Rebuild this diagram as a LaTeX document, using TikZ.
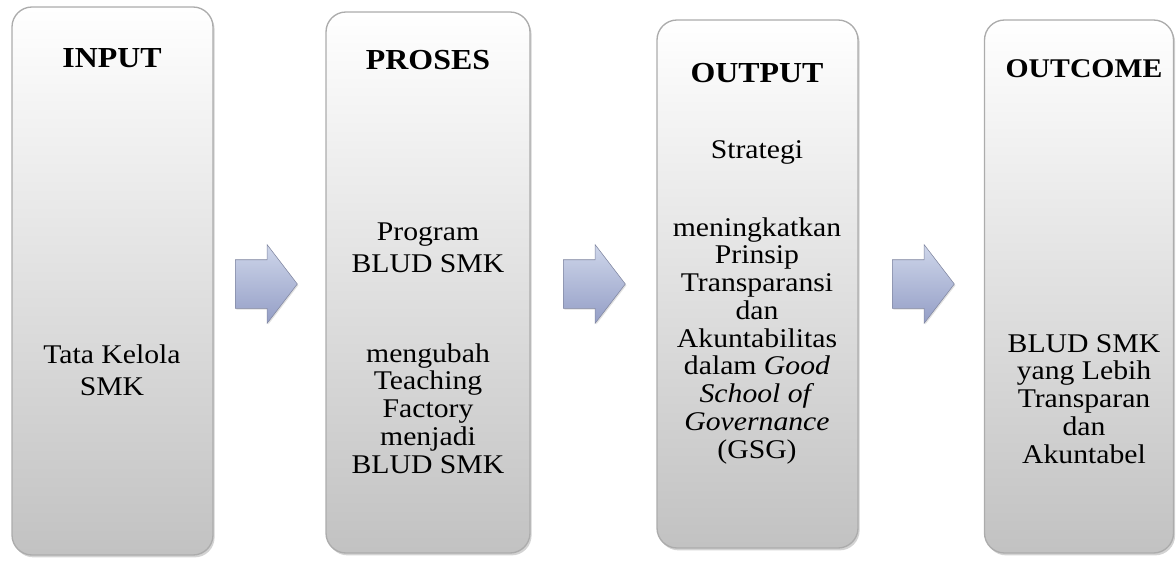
\documentclass[tikz,border=0pt]{standalone}
\usepackage{fontspec}
\setmainfont[FakeStretch=1.1]{Liberation Serif}
\usetikzlibrary{shapes.arrows}
\usetikzlibrary{shadows}
\usetikzlibrary{positioning}
\definecolor{arrowtop}{RGB}{206,214,234}
\definecolor{arrowbot}{RGB}{148,158,198}
\definecolor{arrowedge}{RGB}{128,134,160}
\definecolor{boxedge}{RGB}{172,172,172}

\begin{document}
\begin{tikzpicture}[x=0.75pt,y=-0.75pt,
    stage box/.style={draw=boxedge,line width=1pt,rounded corners=15pt,inner sep=0pt,
      top color=white,middle color=white!95!black,bottom color=white!76!black,
      drop shadow={shadow xshift=1.2pt,shadow yshift=-1.8pt,opacity=0.35}},
    title text/.style={anchor=base,align=center,font=\fontsize{21.75pt}{24pt}\selectfont\bfseries},
    body text/.style={anchor=base,align=center,font=\fontsize{20.25pt}{20.8pt}\selectfont},
    flow arrow/.style={single arrow,draw=arrowedge,line width=0.4pt,inner xsep=0pt,inner ysep=18pt,
      minimum height=46.5pt,single arrow head extend=11.25pt,
      single arrow tip angle=105,top color=arrowtop,bottom color=arrowbot,
      drop shadow={shadow xshift=0.8pt,shadow yshift=-1pt,opacity=0.25}}]
   \useasboundingbox (0,0) rectangle (1176,563);
   % boxes
   \node[stage box,minimum width=150.75pt,minimum height=411pt] (input) at (112.5,281) {};
   \node[stage box,minimum width=153pt,minimum height=405.75pt] (proses) at (428,282.5) {};
   \node[stage box,minimum width=150.75pt,minimum height=396pt] (output) at (757.5,284) {};
   \node[stage box,minimum width=141.75pt,minimum height=399.75pt] (outcome) at (1079,286.5) {};
   % arrows
   \node[flow arrow] (a1) at (257,284) {};
   \node[flow arrow] (a2) at (585,284) {};
   \node[flow arrow] (a3) at (914,284) {};
   % texts (base = last line)
   \node[title text] (input title) at (112,68) {INPUT};
   \node[body text] (input body) at (112,395) {Tata Kelola\\[3.2pt]SMK};
   \node[title text] (proses title) at (428,70) {PROSES};
   \node[body text] (proses body) at (428,272) {Program\\[3.2pt]BLUD SMK};
   \node[body text] (proses body2) at (428,473) {mengubah\\Teaching\\Factory\\menjadi\\BLUD SMK};
   \node[title text] (output title) at (757,83) {OUTPUT};
   \node[body text] (output body) at (757,158) {Strategi};
   \node[body text] (output body2) at (757,458) {meningkatkan\\Prinsip\\Transparansi\\dan\\Akuntabilitas\\dalam \textit{Good}\\\textit{School of}\\\textit{Governance}\\(GSG)};
   \node[title text,font=\fontsize{20.25pt}{22pt}\selectfont\bfseries] (outcome title) at (1084,78) {OUTCOME};
   \node[body text] (outcome body) at (1084,463) {BLUD SMK\\yang Lebih\\Transparan\\dan\\Akuntabel};
\end{tikzpicture}
\end{document}
